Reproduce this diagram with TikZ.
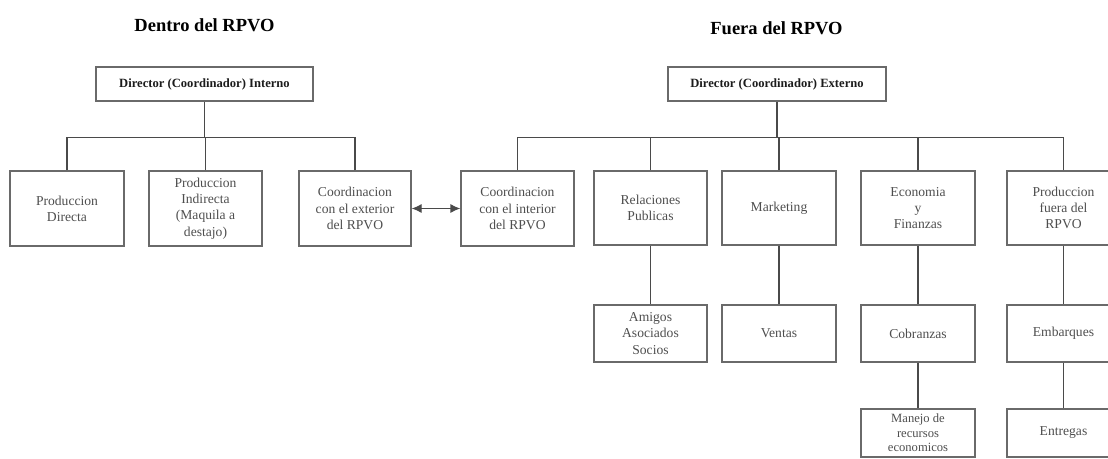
\documentclass[tikz,border=0pt]{standalone}
\usepackage{fontspec}
\setmainfont{Liberation Serif}
\usetikzlibrary{arrows.meta}
\definecolor{framegray}{HTML}{6A6A6A}
\definecolor{wiregray}{HTML}{4A4A4A}
\definecolor{labelgray}{HTML}{4E4E4E}
\definecolor{headink}{HTML}{1C1C1C}
\tikzset{
  unit/.style={draw=framegray, line width=1.2pt, rectangle, inner sep=0pt,
    align=center, text=labelgray, font=\fontsize{13.6}{16.3}\selectfont},
  tallbox/.style={unit, minimum width=113pt, minimum height=75pt},
  midbox/.style={unit, minimum width=113pt, minimum height=57pt},
  lowbox/.style={unit, minimum width=113pt, minimum height=48pt},
  headbox/.style={draw=framegray, line width=1.2pt, rectangle, inner sep=0pt,
    minimum width=217pt, minimum height=34pt, text=headink,
    font=\bfseries\fontsize{12.6}{15}\selectfont},
  sidetitle/.style={text=black, font=\bfseries\fontsize{18.5}{22}\selectfont},
  wire/.style={draw=wiregray, line width=1.2pt},
  twoway/.style={wire, {Latex[length=10pt,width=9pt]}-{Latex[length=10pt,width=9pt]}}
}
\begin{document}
\begin{tikzpicture}[x=1pt,y=-1pt]
\useasboundingbox (0,0) rectangle (1108,458);

% section titles
\node[sidetitle] (tin) at (204.5,25) {Dentro del RPVO};
\node[sidetitle] (tout) at (776.5,28) {Fuera del RPVO};

% inner side
\node[headbox] (dirI) at (204.5,84) {Director (Coordinador) Interno};
\node[tallbox, minimum width=114pt] (pd) at (67,208.5) {Produccion\\Directa};
\node[tallbox] (pi) at (205.5,208.5) {Produccion\\Indirecta\\(Maquila a\\destajo)};
\node[tallbox, minimum width=112pt] (ce) at (355,208.5) {Coordinacion\\con el exterior\\del RPVO};

% outer side
\node[headbox, minimum width=218pt] (dirE) at (777,84) {Director (Coordinador) Externo};
\node[tallbox] (ci) at (517.5,208.5) {Coordinacion\\con el interior\\del RPVO};
\node[tallbox, minimum height=74pt] (rp) at (650.5,208) {Relaciones\\Publicas};
\node[tallbox, minimum height=74pt, minimum width=114pt] (mk) at (779,208) {Marketing};
\node[tallbox, minimum height=74pt, minimum width=114pt] (ef) at (918,208) {Economia\\y\\Finanzas};
\node[tallbox, minimum height=74pt] (pf) at (1063.5,208) {Produccion\\fuera del\\RPVO};

\node[midbox] (am) at (650.5,333.5) {Amigos\\Asociados\\Socios};
\node[midbox, minimum width=114pt] (ve) at (779,333.5) {Ventas};
\node[midbox, minimum width=114pt] (co) at (918,333.5) {Cobranzas};
\node[midbox] (em) at (1063.5,333.5) {Embarques};

\node[lowbox, minimum width=114pt, font=\fontsize{12.6}{14.6}\selectfont] (mr) at (918,433) {Manejo de\\recursos\\economicos};
\node[lowbox] (en) at (1063.5,433) {Entregas};

% inner tree
\draw[wire] (dirI.south) -- ++(0,36) coordinate (busI);
\foreach \b in {pd,pi,ce} \draw[wire] (\b.north) |- (busI);

% outer tree
\draw[wire] (dirE.south) -- ++(0,36) coordinate (busE);
\foreach \b in {ci,rp,mk,ef,pf} \draw[wire] (\b.north) |- (busE);

% sub-units
\draw[wire] (rp.south) -- (am.north);
\draw[wire] (mk.south) -- (ve.north);
\draw[wire] (ef.south) -- (co.north);
\draw[wire] (pf.south) -- (em.north);
\draw[wire] (co.south) -- (mr.north);
\draw[wire] (em.south) -- (en.north);

% link between both coordinators
\draw[twoway] (ce.east) -- (ci.west);
\end{tikzpicture}
\end{document}
